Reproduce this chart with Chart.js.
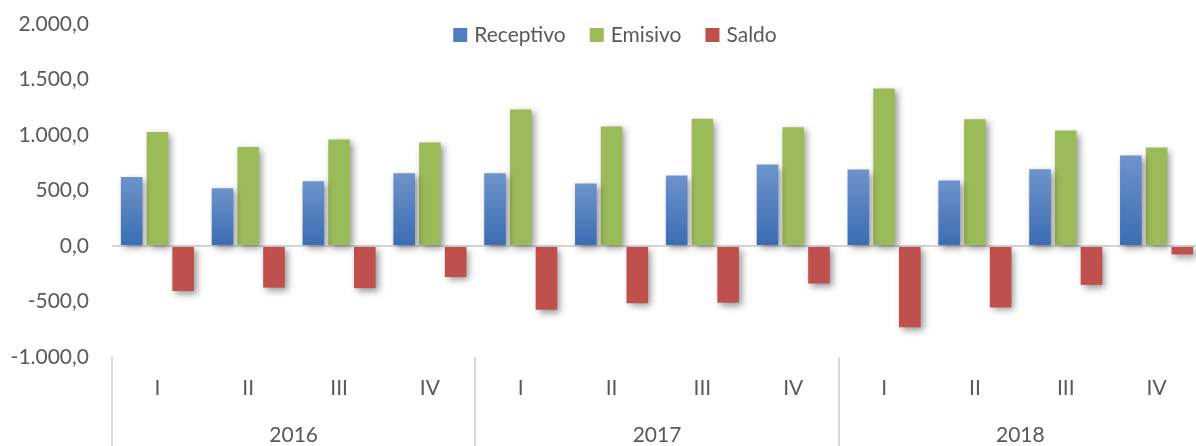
<!DOCTYPE html>
<html>
<head>
<meta charset="utf-8">
<script src="https://cdn.jsdelivr.net/npm/chart.js@4/dist/chart.umd.min.js"></script>
<style>
  html, body { margin: 0; padding: 0; background: #fff; overflow: hidden; }
  #wrap { position: relative; width: 1202px; height: 446px; }
</style>
</head>
<body>
<div id="wrap"><canvas id="c"></canvas></div>
<script>
// ---- data ----
const quarters = ['I','II','III','IV','I','II','III','IV','I','II','III','IV'];
const years = ['2016','2017','2018'];
const receptivo = [622, 521, 583, 655, 656, 563, 635, 734, 689, 590, 692, 815];
const emisivo   = [1026, 891, 960, 933, 1230, 1077, 1146, 1070, 1419, 1142, 1040, 887];
const saldo     = [-405, -375, -380, -280, -575, -515, -512, -338, -732, -554, -350, -76];
const yTicks = [-1000, -500, 0, 500, 1000, 1500, 2000];

const FONT = 'Lato, "Open Sans", sans-serif';
const TXT = '#595959';

function fmt(v) {
  const neg = v < 0; const a = Math.abs(v);
  const s = Math.floor(a).toString().replace(/\B(?=(\d{3})+(?!\d))/g, '.');
  return (neg ? '-' : '') + s + ',0';
}

function blueGrad(ctx) {
  const chart = ctx.chart;
  if (!chart.chartArea || ctx.raw === undefined) return '#4f81bd';
  const y = chart.scales.y;
  const top = y.getPixelForValue(ctx.raw), base = y.getPixelForValue(0);
  const g = chart.ctx.createLinearGradient(0, Math.min(top, base), 0, Math.max(top, base));
  g.addColorStop(0, '#6e93cb');
  g.addColorStop(1, '#3a6cb2');
  return g;
}

const shadowPlugin = {
  id: 'shadow',
  beforeDatasetsDraw(chart) {
    const c = chart.ctx; c.save();
    c.shadowColor = 'rgba(0,0,0,0.42)';
    c.shadowBlur = 7; c.shadowOffsetX = 3; c.shadowOffsetY = 3;
  },
  afterDatasetsDraw(chart) { chart.ctx.restore(); }
};

const decoPlugin = {
  id: 'deco',
  afterDraw(chart) {
    const c = chart.ctx, x = chart.scales.x, area = chart.chartArea;
    c.save();
    // year separators
    c.strokeStyle = '#d9d9d9'; c.lineWidth = 2;
    const step = (x.getPixelForValue(1) - x.getPixelForValue(0));
    for (let k = 0; k <= years.length; k++) {
      const px = Math.round(x.getPixelForValue(k * 4) - step / 2);
      c.beginPath(); c.moveTo(px, area.bottom); c.lineTo(px, chart.height); c.stroke();
    }
    // year labels
    c.fillStyle = TXT; c.font = '21px ' + FONT;
    c.textAlign = 'center'; c.textBaseline = 'middle';
    years.forEach((yr, k) => {
      const cx = (x.getPixelForValue(k * 4) + x.getPixelForValue(k * 4 + 3)) / 2;
      c.fillText(yr, cx, 435);
    });
    // legend
    const ds = chart.data.datasets;
    const box = 14, gap = 7, spacing = 24;
    c.textAlign = 'left';
    const widths = ds.map(d => c.measureText(d.label).width);
    let total = widths.reduce((a, b) => a + b, 0) + ds.length * (box + gap) + (ds.length - 1) * spacing;
    let lx = 615 - total / 2;
    const ly = 35;
    ds.forEach((d, i) => {
      c.fillStyle = d.legendColor;
      c.fillRect(lx, ly - box / 2, box, box);
      c.fillStyle = TXT;
      c.fillText(d.label, lx + box + gap, ly);
      lx += box + gap + widths[i] + spacing;
    });
    c.restore();
  }
};

new Chart(document.getElementById('c'), {
  type: 'bar',
  data: {
    labels: quarters,
    datasets: [
      { label: 'Receptivo', data: receptivo, backgroundColor: blueGrad, legendColor: '#4f7fc0' },
      { label: 'Emisivo', data: emisivo, backgroundColor: '#9bbb59', legendColor: '#9bbb59' },
      { label: 'Saldo', data: saldo, backgroundColor: '#c0504d', legendColor: '#c0504d' }
    ]
  },
  options: {
    responsive: true,
    maintainAspectRatio: false,
    animation: false,
    layout: { padding: { top: 24, left: 0, right: 0, bottom: 0 } },
    datasets: { bar: { categoryPercentage: 0.85, barPercentage: 0.84 } },
    plugins: { legend: { display: false }, tooltip: { enabled: false }, title: { display: false } },
    scales: {
      x: {
        grid: { display: false, drawTicks: false },
        border: { display: false },
        ticks: { color: TXT, font: { family: FONT, size: 21 }, padding: 19, maxRotation: 0, autoSkip: false },
        afterFit(s) { s.height = 89; s.paddingLeft = 0; s.paddingRight = 0; }
      },
      y: {
        min: -1000, max: 2000,
        afterBuildTicks(s) { s.ticks = yTicks.map(v => ({ value: v })); },
        grid: {
          drawTicks: false,
          color: (ctx) => ctx.tick && ctx.tick.value === 0 ? '#d4d4d4' : 'rgba(0,0,0,0)',
          lineWidth: 2
        },
        border: { display: false },
        ticks: { color: TXT, font: { family: FONT, size: 21 }, padding: 23, callback: (v) => fmt(v) },
        afterFit(s) { s.width = 112; s.paddingTop = 0; s.paddingBottom = 0; }
      }
    }
  },
  plugins: [shadowPlugin, decoPlugin]
});
</script>
</body>
</html>
